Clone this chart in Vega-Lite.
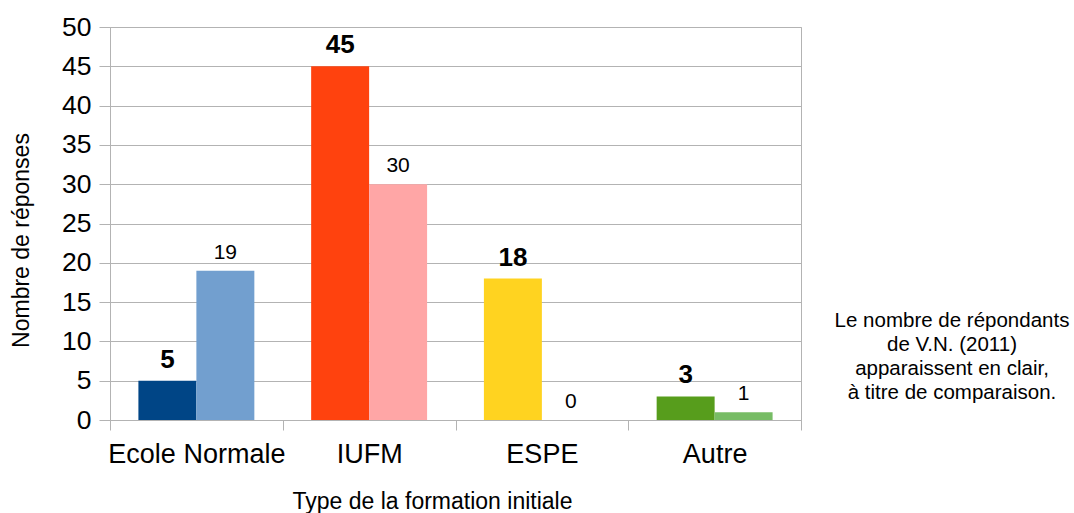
{
  "$schema": "https://vega.github.io/schema/vega-lite/v6.json",
  "autosize": {"type": "none"},
  "padding": {"left": 110, "top": 27, "right": 273, "bottom": 93},
  "width": 691,
  "height": 393,
  "background": "white",
  "config": {
    "font": "Liberation Sans",
    "view": {"stroke": "#b3b3b3", "strokeWidth": 1}
  },
  "title": {
    "text": ["Le nombre de répondants", "de V.N. (2011)", "apparaissent en clair,", "à titre de comparaison."],
    "frame": "group",
    "anchor": "start",
    "orient": "top",
    "align": "center",
    "baseline": "top",
    "dx": 842,
    "dy": 389,
    "offset": 0,
    "fontSize": 20.5,
    "fontWeight": "normal",
    "lineHeight": 24,
    "color": "black"
  },
  "data": {
    "values": [
      {"formation": "Ecole Normale", "groupe": "enquête", "cle": "Ecole Normale - enquête", "valeur": 5},
      {"formation": "Ecole Normale", "groupe": "V.N. (2011)", "cle": "Ecole Normale - V.N. (2011)", "valeur": 19},
      {"formation": "IUFM", "groupe": "enquête", "cle": "IUFM - enquête", "valeur": 45},
      {"formation": "IUFM", "groupe": "V.N. (2011)", "cle": "IUFM - V.N. (2011)", "valeur": 30},
      {"formation": "ESPE", "groupe": "enquête", "cle": "ESPE - enquête", "valeur": 18},
      {"formation": "ESPE", "groupe": "V.N. (2011)", "cle": "ESPE - V.N. (2011)", "valeur": 0},
      {"formation": "Autre", "groupe": "enquête", "cle": "Autre - enquête", "valeur": 3},
      {"formation": "Autre", "groupe": "V.N. (2011)", "cle": "Autre - V.N. (2011)", "valeur": 1}
    ]
  },
  "encoding": {
    "x": {
      "field": "formation",
      "type": "nominal",
      "sort": ["Ecole Normale", "IUFM", "ESPE", "Autre"],
      "scale": {"paddingInner": 0, "paddingOuter": 0},
      "axis": {
        "title": "Type de la formation initiale",
        "labelAngle": 0,
        "tickBand": "extent",
        "tickSize": 10,
        "grid": false,
        "domainColor": "#b3b3b3",
        "tickColor": "#b3b3b3",
        "labelFontSize": 27,
        "labelColor": "black",
        "labelPadding": 11,
        "titleFontSize": 23,
        "titleFontWeight": "normal",
        "titleColor": "black",
        "titleX": 322,
        "titleY": 88,
        "titleBaseline": "alphabetic"
      }
    },
    "xOffset": {
      "field": "groupe",
      "type": "nominal",
      "sort": ["enquête", "V.N. (2011)"],
      "scale": {"paddingInner": 0, "paddingOuter": 0.49}
    },
    "y": {
      "field": "valeur",
      "type": "quantitative",
      "scale": {"domain": [0, 50], "nice": false},
      "axis": {
        "title": "Nombre de réponses",
        "values": [0, 5, 10, 15, 20, 25, 30, 35, 40, 45, 50],
        "grid": true,
        "gridColor": "#b3b3b3",
        "domainColor": "#b3b3b3",
        "tickColor": "#b3b3b3",
        "tickSize": 11,
        "labelFontSize": 26.5,
        "labelColor": "black",
        "labelPadding": 8,
        "labelFlush": false,
        "titleFontSize": 23,
        "titleFontWeight": "normal",
        "titleColor": "black",
        "titleX": -89,
        "titleY": 213,
        "titleAngle": -90,
        "titleAlign": "center",
        "titleBaseline": "middle"
      }
    }
  },
  "layer": [
    {
      "mark": {"type": "bar"},
      "encoding": {
        "color": {
          "field": "cle",
          "type": "nominal",
          "legend": null,
          "scale": {
            "domain": ["Ecole Normale - enquête", "Ecole Normale - V.N. (2011)", "IUFM - enquête", "IUFM - V.N. (2011)", "ESPE - enquête", "ESPE - V.N. (2011)", "Autre - enquête", "Autre - V.N. (2011)"],
            "range": ["#004586", "#729fcf", "#ff420e", "#ffa6a6", "#ffd320", "#ffe994", "#579d1c", "#77bc65"]
          }
        }
      }
    },
    {
      "transform": [{"filter": "datum.groupe === 'enquête'"}],
      "mark": {"type": "text", "baseline": "alphabetic", "dy": -13, "fontSize": 26, "fontWeight": "bold", "color": "black"},
      "encoding": {"text": {"field": "valeur", "type": "quantitative"}}
    },
    {
      "transform": [{"filter": "datum.groupe === 'V.N. (2011)'"}],
      "mark": {"type": "text", "baseline": "alphabetic", "dy": -12, "fontSize": 21, "color": "black"},
      "encoding": {"text": {"field": "valeur", "type": "quantitative"}}
    }
  ]
}
